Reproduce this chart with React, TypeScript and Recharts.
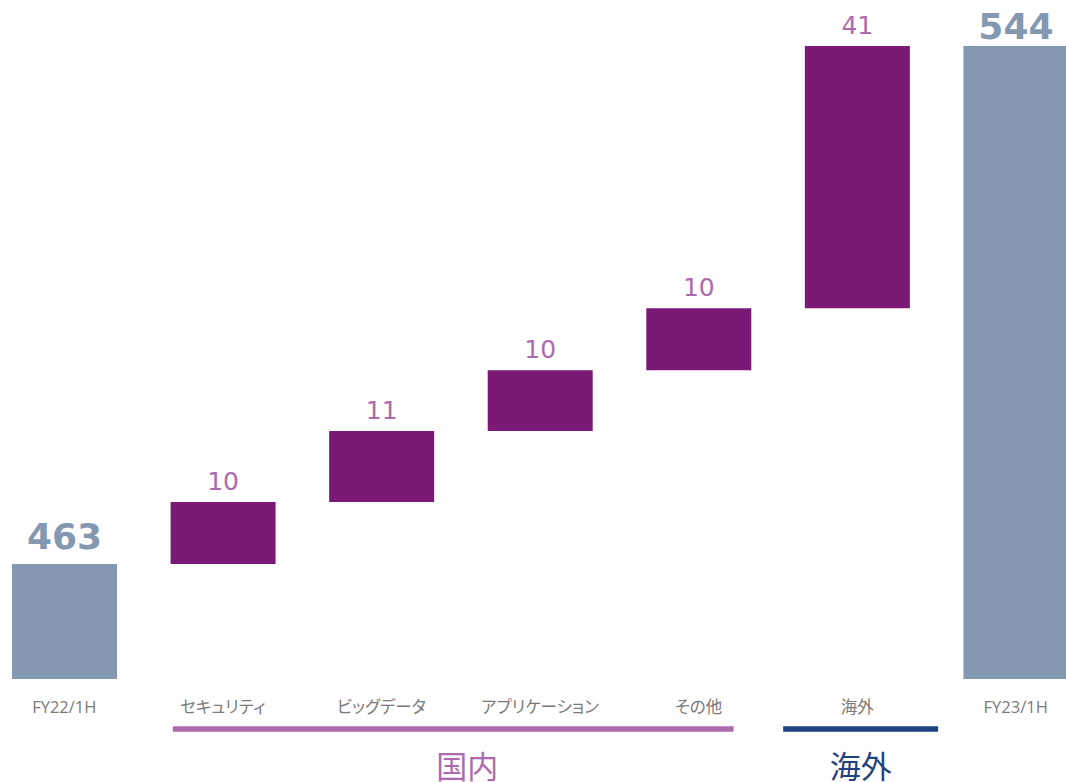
import { BarChart, Bar, XAxis, YAxis, Cell, LabelList } from 'recharts';

const categories = ['FY22/1H', 'セキュリティ', 'ビッグデータ', 'アプリケーション', 'その他', '海外', 'FY23/1H'];
const kinds = ['total', 'step', 'step', 'step', 'step', 'step', 'total'];
const values = [463, 9.7, 11.1, 9.5, 9.7, 41.0, 544];

const groupNames = ['国内', '海外'];
const groupFrom = [1, 5];
const groupTo = [4, 5];

const Y_MIN = 445;
const Y_MAX = 544;

const CHART_W = 1110;
const BAND = CHART_W / categories.length;

const TOTAL_COLOR = '#8598B2';
const STEP_COLOR = '#7B1A76';
const STEP_LABEL = '#AE6AAE';
const groupColors = ['#AD6BAE', '#1F4280'];
const groupLineInset = [
  [50, 35],
  [74, 81],
];
const groupLabelDx = [14, 0];

let running = 0;
const data = categories.map((name, i) => {
  const v = values[i];
  let range: [number, number];
  if (kinds[i] === 'total') {
    range = [Y_MIN, v];
    running = v;
  } else {
    range = [running, running + v];
    running += v;
  }
  return { name, kind: kinds[i], value: v, range };
});

const CategoryTick = (props: any) => {
  const { x, y, payload, index } = props;
  const g = groupFrom.indexOf(index);
  return (
    <g>
      <text
        x={x}
        y={y + 34}
        textAnchor="middle"
        fill="#7a7a7a"
        fontSize={16.5}
        fontFamily='"Open Sans", "Noto Sans CJK JP", sans-serif'
        style={{ fontFeatureSettings: '"palt"' }}
      >
        {payload.value}
      </text>
      {g >= 0 && (
        <g>
          <line
            x1={x - groupLineInset[g][0]}
            x2={x + (groupTo[g] - groupFrom[g]) * BAND + groupLineInset[g][1]}
            y1={y + 50}
            y2={y + 50}
            stroke={groupColors[g]}
            strokeWidth={5.5}
          />
          <text
            x={(x - groupLineInset[g][0] + x + (groupTo[g] - groupFrom[g]) * BAND + groupLineInset[g][1]) / 2 + groupLabelDx[g]}
            y={y + 99}
            textAnchor="middle"
            fill={groupColors[g]}
            fontSize={31}
            fontFamily='"Noto Sans CJK JP", sans-serif'
          >
            {groupNames[g]}
          </text>
        </g>
      )}
    </g>
  );
};

const ValueLabel = (props: any) => {
  const { x, y, width, index } = props;
  const d = data[index];
  const isTotal = d.kind === 'total';
  // totals sit 15px above the bar, but never closer than 39px to the top edge
  const ty = isTotal ? Math.max(y - 15, 39) : y - 12;
  return (
    <text
      x={x + width / 2}
      y={ty}
      textAnchor="middle"
      fill={isTotal ? TOTAL_COLOR : STEP_LABEL}
      fontSize={isTotal ? 36 : 25}
      fontWeight={isTotal ? 'bold' : 'normal'}
      fontFamily='"DejaVu Sans", Verdana, sans-serif'
    >
      {Math.round(d.value)}
    </text>
  );
};

export default function App() {
  return (
    <div
      style={{
        position: 'absolute',
        left: 0,
        top: 0,
        width: 1066,
        height: 782,
        overflow: 'hidden',
        background: '#ffffff',
      }}
    >
      <div style={{ position: 'absolute', left: -15, top: 0 }}>
        <BarChart
          width={CHART_W}
          height={782}
          data={data}
          margin={{ top: 46, right: 0, bottom: 0, left: 0 }}
          barCategoryGap={0}
        >
          <XAxis
            dataKey="name"
            axisLine={false}
            tickLine={false}
            tickSize={0}
            tickMargin={0}
            height={103}
            interval={0}
            tick={<CategoryTick />}
          />
          <YAxis hide domain={[Y_MIN, Y_MAX]} allowDataOverflow />
          <Bar dataKey="range" barSize={105} isAnimationActive={false}>
            {data.map((d, i) => (
              <Cell key={i} fill={d.kind === 'total' ? TOTAL_COLOR : STEP_COLOR} />
            ))}
            <LabelList dataKey="value" content={<ValueLabel />} />
          </Bar>
        </BarChart>
      </div>
    </div>
  );
}
